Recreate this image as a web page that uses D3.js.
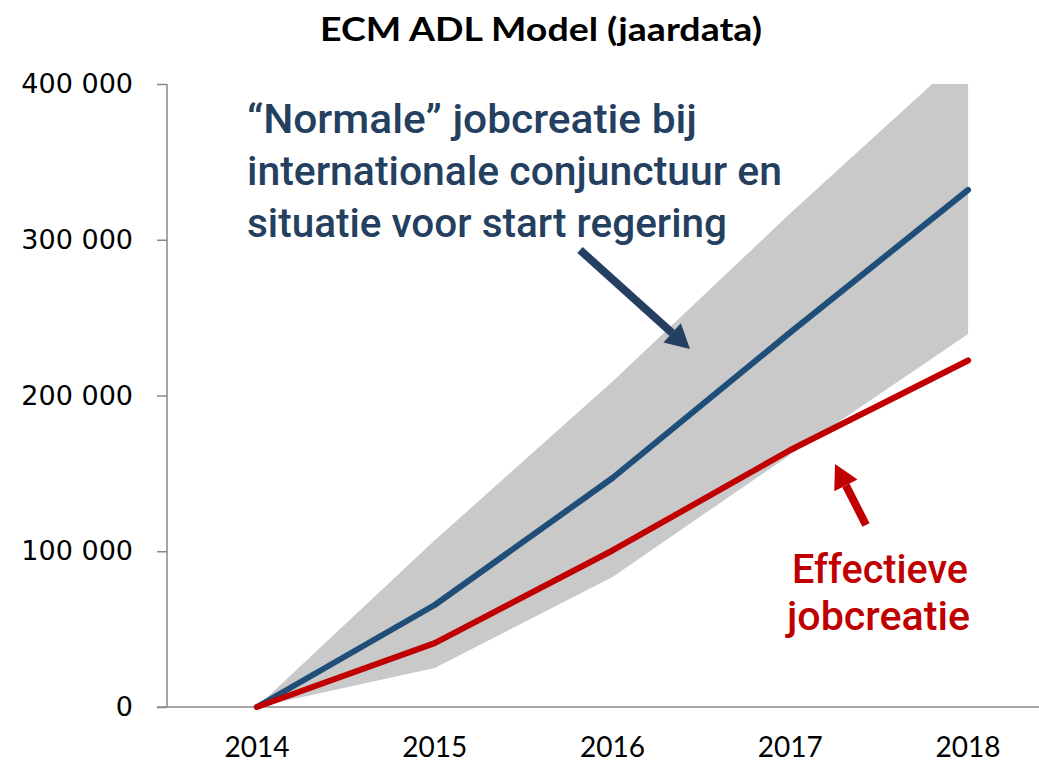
<!DOCTYPE html>
<html><head><meta charset="utf-8">
<script src="https://cdn.jsdelivr.net/npm/d3@7"></script>
<style>body{margin:0;background:#fff}svg{display:block}</style>
</head><body>
<svg id="c" width="1039" height="766"></svg>
<script>
const years = ["2014","2015","2016","2017","2018"];
const bandUpper = [0, 107000, 209000, 317000, 421000];
const bandLower = [0, 25000, 83500, 162000, 239500];
const normale = [0, 65500, 147000, 240500, 332000];
const effectief = [0, 41000, 100500, 165000, 222500];
const yTicks = [0, 100000, 200000, 300000, 400000];
const title = "ECM ADL Model (jaardata)";
const noteBlue = ["\u201CNormale\u201D jobcreatie bij", "internationale conjunctuur en", "situatie voor start regering"];
const noteRed = ["Effectieve", "jobcreatie"];

const svg = d3.select("#c");
const x = d3.scaleBand().domain(years).range([168, 1057]);
const xc = d => x(d) + x.bandwidth()/2;
const y = d3.scaleLinear().domain([0, 400000]).range([707, 84]);

svg.append("defs").append("clipPath").attr("id","clip")
  .append("rect").attr("x",168).attr("y",y(400000)).attr("width",900).attr("height",y(0)-y(400000)+10);

const rows = years.map((yr,i)=>({yr, lo:bandLower[i], hi:bandUpper[i], n:normale[i], e:effectief[i]}));

svg.append("path").datum(rows).attr("clip-path","url(#clip)")
  .attr("fill","#c9c9c9")
  .attr("d", d3.area().x(d=>xc(d.yr)).y0(d=>y(d.lo)).y1(d=>y(d.hi)));

// axes
const yAxis = d3.axisLeft(y).tickValues(yTicks).tickSize(10).tickPadding(24)
  .tickFormat(d => d3.format(",")(d).replace(/,/g," "));
const ga = svg.append("g").attr("transform","translate(167,0)").call(yAxis);
ga.select(".domain").attr("stroke","#888").attr("stroke-width",1.5).attr("d","M0,"+y(400000)+"V"+y(0));
ga.selectAll(".tick line").attr("stroke","#888").attr("stroke-width",1.5);
ga.selectAll(".tick text").attr("fill","#000").style("font-family","'DejaVu Sans'").style("font-size","27px");

const xAxis = d3.axisBottom(x).tickSize(0).tickPadding(30);
const gx = svg.append("g").attr("transform","translate(0,"+y(0)+")").call(xAxis);
gx.select(".domain").attr("stroke","#888").attr("stroke-width",1.5).attr("d","M157,0H1039");
gx.selectAll(".tick text").attr("fill","#000").style("font-family","Lato").style("font-size","28px");

// lines
const line = acc => d3.line().x(d=>xc(d.yr)).y(d=>y(acc(d)));
svg.append("path").datum(rows).attr("fill","none").attr("stroke","#1f4e79").attr("stroke-width",6)
  .attr("stroke-linecap","round").attr("stroke-linejoin","round").attr("d", line(d=>d.n));
svg.append("path").datum(rows).attr("fill","none").attr("stroke","#c00000").attr("stroke-width",6)
  .attr("stroke-linecap","round").attr("stroke-linejoin","round").attr("d", line(d=>d.e));

// title
svg.append("text").attr("x",541).attr("y",41).attr("text-anchor","middle")
  .style("font-family","Lato").style("font-weight","bold").style("font-size","33px")
  .attr("textLength",442).attr("lengthAdjust","spacingAndGlyphs").text(title);

// annotations
const nf = "Roboto, 'Liberation Sans', sans-serif";
const blueW = [450, 535, 480];
noteBlue.forEach((t,i)=>{
  svg.append("text").attr("x",247).attr("y",133+i*52).attr("fill","#243f60")
    .style("font-family",nf).style("font-weight","500").style("font-size","40px")
    .attr("textLength",blueW[i]).attr("lengthAdjust","spacingAndGlyphs").text(t);
});
const redX = [792, 787], redW = [176, 183];
noteRed.forEach((t,i)=>{
  svg.append("text").attr("x",redX[i]).attr("y",583+i*47).attr("fill","#c00000")
    .style("font-family",nf).style("font-weight","500").style("font-size","40px")
    .attr("textLength",redW[i]).attr("lengthAdjust","spacingAndGlyphs").text(t);
});

// arrows
function arrow(x1,y1,x2,y2,col){
  const a = Math.atan2(y2-y1,x2-x1), L=24, W=13;
  const bx = x2-L*Math.cos(a), by = y2-L*Math.sin(a);
  svg.append("line").attr("x1",x1).attr("y1",y1).attr("x2",bx).attr("y2",by)
    .attr("stroke",col).attr("stroke-width",8);
  const px = -Math.sin(a), py = Math.cos(a);
  svg.append("path").attr("fill",col)
    .attr("d",`M${x2},${y2}L${bx+px*W},${by+py*W}L${bx-px*W},${by-py*W}Z`);
}
arrow(580,250,690,349,"#243f60");
arrow(866,525,835,464,"#c00000");
</script>
</body></html>
